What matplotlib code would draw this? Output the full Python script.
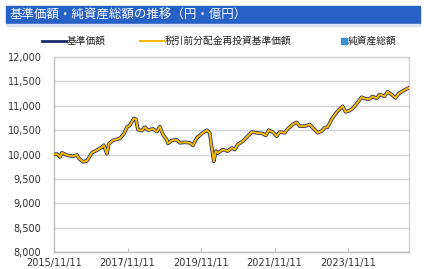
import numpy as np
import pandas as pd
import matplotlib
matplotlib.use("Agg")
import matplotlib.pyplot as plt
import matplotlib.dates as mdates
from matplotlib.patches import Rectangle
from matplotlib.lines import Line2D

plt.rcParams['font.family'] = ['DejaVu Sans', 'Noto Sans CJK JP']

title = "基準価額・純資産総額の推移（円・億円）"
legend_labels = ["基準価額", "税引前分配金再投資基準価額", "純資産総額"]

dates = ["2015-11-11", "2015-12-11", "2016-01-10", "2016-01-29", "2016-03-19",
         "2016-05-18", "2016-06-26", "2016-07-16", "2016-08-25", "2016-10-04",
         "2016-11-22", "2017-01-11", "2017-03-01", "2017-03-21", "2017-04-20",
         "2017-05-10", "2017-06-19", "2017-08-27", "2017-10-06", "2017-11-05",
         "2017-12-04", "2018-01-13", "2018-02-02", "2018-02-22", "2018-04-02",
         "2018-05-02", "2018-06-01", "2018-07-21", "2018-08-29", "2018-09-28",
         "2018-10-28", "2018-12-07", "2018-12-16", "2019-01-25", "2019-03-16",
         "2019-04-15", "2019-06-03", "2019-07-23", "2019-08-22", "2019-09-30",
         "2019-11-19", "2020-01-08", "2020-02-06", "2020-02-26", "2020-03-17",
         "2020-04-06", "2020-04-26", "2020-06-14", "2020-08-03", "2020-09-12",
         "2020-10-11", "2020-11-10", "2020-12-30", "2021-02-17", "2021-03-29",
         "2021-05-18", "2021-07-16", "2021-08-15", "2021-09-14", "2021-10-24",
         "2021-12-02", "2022-01-01", "2022-02-20", "2022-03-21", "2022-05-10",
         "2022-06-19", "2022-07-19", "2022-09-06", "2022-10-26", "2022-12-14",
         "2023-01-13", "2023-02-22", "2023-03-24", "2023-04-22", "2023-06-01",
         "2023-07-01", "2023-07-31", "2023-09-18", "2023-10-18", "2023-11-27",
         "2023-12-27", "2024-02-04", "2024-03-25", "2024-04-24", "2024-06-02",
         "2024-07-12", "2024-08-21", "2024-09-20", "2024-11-08", "2024-12-08",
         "2025-01-17", "2025-02-25", "2025-03-27", "2025-05-06", "2025-07-04"]

nav = [10000, 10010, 9950, 10035, 9985, 9965, 9990, 9920, 9850, 9870,
       10035, 10090, 10150, 10190, 10015, 10220, 10290, 10330, 10425, 10560,
       10600, 10740, 10720, 10510, 10490, 10560, 10500, 10525, 10470, 10570,
       10410, 10300, 10225, 10290, 10300, 10240, 10250, 10240, 10185, 10340,
       10430, 10500, 10440, 10135, 9860, 10070, 10030, 10100, 10070, 10135,
       10100, 10205, 10270, 10375, 10460, 10445, 10430, 10390, 10500, 10460,
       10375, 10460, 10445, 10525, 10615, 10660, 10580, 10580, 10615, 10510,
       10445, 10480, 10550, 10560, 10720, 10810, 10890, 10990, 10875, 10900,
       10945, 11040, 11175, 11150, 11130, 11190, 11150, 11230, 11195, 11285,
       11230, 11160, 11245, 11300, 11365]
# no distributions paid, so the reinvested series is the same
nav_reinvested = list(nav)

tick_dates = ["2015-11-11", "2017-11-11", "2019-11-11", "2021-11-11", "2023-11-11"]

x = pd.to_datetime(dates)

W, H = 424, 269
fig = plt.figure(figsize=(W / 100, H / 100), dpi=100)

def fx(px):
    return px / W

def fy(py):
    return 1 - py / H

# header bar
fig.patches.append(Rectangle((fx(6), fy(24)), fx(414), 18 / H,
                             transform=fig.transFigure, color="#2861c6", zorder=0))
fig.patches.append(Rectangle((fx(6), fy(26)), fx(414), 2 / H,
                             transform=fig.transFigure, color="#dde3ee", zorder=0))
fig.text(fx(9), fy(15), title, color="white", fontsize=9, va="center", ha="left")

ax = fig.add_axes([fx(54), fy(252), fx(354.5), 195 / H])
ax.plot(x, nav, color="#1b2a6b", lw=2.6, solid_joinstyle="round", zorder=3)
ax.plot(x, nav_reinvested, color="#f7b900", lw=1.5, solid_joinstyle="round", zorder=4)

ax.set_ylim(8000, 12000)
ax.set_yticks(np.arange(8000, 12001, 500))
ax.yaxis.set_major_formatter(matplotlib.ticker.FuncFormatter(lambda v, p: f"{int(v):,}"))
ax.set_xlim(x[0], x[-1])
ax.set_xticks(pd.to_datetime(tick_dates))
ax.xaxis.set_major_formatter(mdates.DateFormatter("%Y/%m/%d"))
ax.grid(axis="y", color="#d4d4d4", lw=1.0)
ax.set_axisbelow(True)
for s in ax.spines.values():
    s.set_color("#cfcfcf")
    s.set_linewidth(1.0)
ax.spines["left"].set_color("#bdbdbd")
ax.spines["bottom"].set_color("#bdbdbd")
ax.tick_params(axis="y", length=0, pad=9, labelsize=7, labelcolor="#333333")
ax.tick_params(axis="x", direction="in", length=3, color="#bdbdbd", pad=4,
               labelsize=7, labelcolor="#333333")

# legend row, placed by hand
ly = fy(41)
fig.add_artist(Line2D([fx(42), fx(66)], [ly, ly], color="#1b2a6b", lw=2))
fig.text(fx(67), ly, legend_labels[0], fontsize=7, va="center", ha="left", color="#222222")
fig.add_artist(Line2D([fx(140), fx(164)], [ly, ly], color="#f7b900", lw=1.5))
fig.text(fx(165), ly, legend_labels[1], fontsize=7, va="center", ha="left", color="#222222")
fig.add_artist(Line2D([fx(344)], [ly], color="#3b8fd1", marker="s", ls="", ms=4.5))
fig.text(fx(348), ly, legend_labels[2], fontsize=7, va="center", ha="left", color="#222222")

fig.savefig("out.png", dpi=100)
